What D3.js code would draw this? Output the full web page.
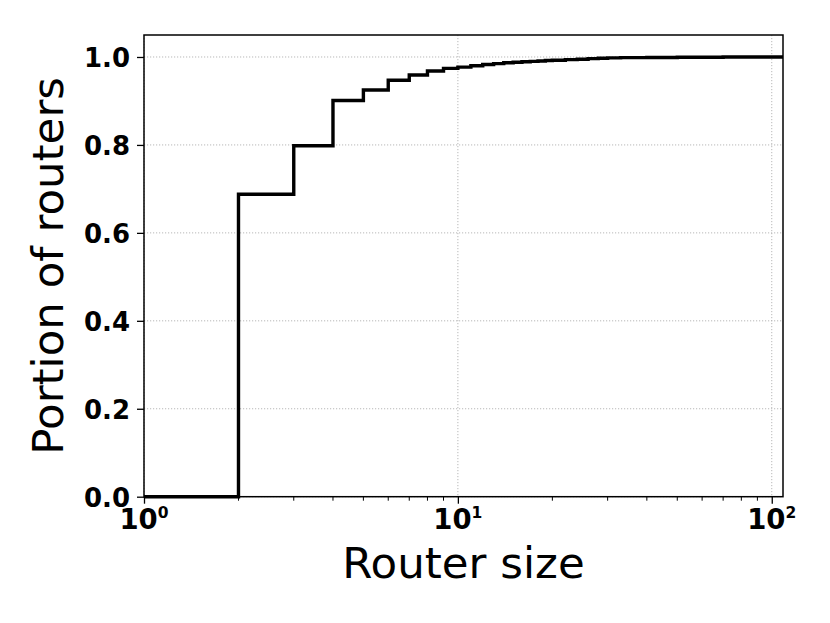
<!DOCTYPE html>
<html>
<head>
<meta charset="utf-8">
<script src="https://cdn.jsdelivr.net/npm/d3@7"></script>
<style>
  html, body { margin: 0; padding: 0; background: #fff; }
  svg { display: block; font-family: "DejaVu Sans", sans-serif; }
</style>
</head>
<body>
<div id="chart"></div>
<script>
// Router size CDF (step curve)
const routerSizes = [1, 2, 3, 4, 5, 6, 7, 8, 9, 10, 11, 12, 13, 14, 15, 16, 17, 18, 19, 20,
  22, 24, 26, 28, 30, 33, 40, 50, 70, 100];
const portion = [0, 0.688, 0.798, 0.901, 0.925, 0.947, 0.959, 0.968, 0.974, 0.977, 0.980,
  0.983, 0.985, 0.987, 0.988, 0.989, 0.990, 0.991, 0.992, 0.9925,
  0.994, 0.995, 0.9963, 0.997, 0.998, 0.9986, 0.999, 0.9995, 0.9998, 1.0];

const yTicks = [0, 0.2, 0.4, 0.6, 0.8, 1.0];
const xTicks = [1, 10, 100];
const xMinorTicks = [2, 3, 4, 5, 6, 7, 8, 9, 20, 30, 40, 50, 60, 70, 80, 90];

const width = 830, height = 623;
const margin = { top: 35, right: 47, bottom: 126.3, left: 144 };
const innerW = width - margin.left - margin.right;
const innerH = height - margin.top - margin.bottom;

const x = d3.scaleLog().domain([1, 108.6]).range([0, innerW]);
const y = d3.scaleLinear().domain([0, 1.05]).range([innerH, 0]);

const svg = d3.select('#chart').append('svg')
  .attr('width', width)
  .attr('height', height);

const g = svg.append('g')
  .attr('transform', `translate(${margin.left},${margin.top})`);

// Grid (dotted)
const grid = g.append('g')
  .attr('stroke', '#b0b0b0')
  .attr('stroke-width', 0.9)
  .attr('stroke-dasharray', '1.2,1.8');

grid.selectAll('.gx')
  .data(xTicks)
  .join('line')
  .attr('x1', d => x(d)).attr('x2', d => x(d))
  .attr('y1', 0).attr('y2', innerH);

grid.selectAll('.gy')
  .data(yTicks)
  .join('line')
  .attr('x1', 0).attr('x2', innerW)
  .attr('y1', d => y(d)).attr('y2', d => y(d));

// Step line
const points = routerSizes.map((s, i) => [s, portion[i]]);
points.push([x.domain()[1], portion[portion.length - 1]]);

const line = d3.line()
  .x(d => x(d[0]))
  .y(d => y(d[1]))
  .curve(d3.curveStepAfter);

g.append('path')
  .datum(points)
  .attr('fill', 'none')
  .attr('stroke', '#000')
  .attr('stroke-width', 3.4)
  .attr('stroke-linejoin', 'miter')
  .attr('d', line);

// Axes
const yAxis = d3.axisLeft(y)
  .tickValues(yTicks)
  .tickSize(7)
  .tickPadding(7)
  .tickFormat(d3.format('.1f'));

const yg = g.append('g').call(yAxis);
yg.select('.domain').remove();
yg.selectAll('.tick line').attr('stroke-width', 1.3);
yg.selectAll('.tick text')
  .attr('font-family', 'DejaVu Sans')
  .attr('font-size', 26)
  .attr('font-weight', 'bold')
  .attr('fill', '#000')
  .attr('dy', '0.36em');

const xAxis = d3.axisBottom(x)
  .tickValues(xTicks)
  .tickSize(7)
  .tickFormat('');

const xg = g.append('g')
  .attr('transform', `translate(0,${innerH})`)
  .call(xAxis);
xg.select('.domain').remove();
xg.selectAll('.tick line').attr('stroke-width', 1.3);

// Minor ticks on the log axis
xg.selectAll('.minor')
  .data(xMinorTicks.filter(d => d <= x.domain()[1]))
  .join('line')
  .attr('class', 'minor')
  .attr('x1', d => x(d)).attr('x2', d => x(d))
  .attr('y1', 0).attr('y2', 4)
  .attr('stroke', '#000')
  .attr('stroke-width', 1);

// Power-of-ten labels
const xl = xg.selectAll('.xlabel')
  .data(xTicks)
  .join('text')
  .attr('class', 'xlabel')
  .attr('x', d => x(d))
  .attr('y', 32.5)
  .attr('text-anchor', 'middle')
  .attr('font-family', 'DejaVu Sans')
  .attr('font-weight', 'bold')
  .attr('fill', '#000');
xl.append('tspan')
  .attr('font-size', 27.5)
  .text('10');
xl.append('tspan')
  .attr('font-size', 15.5)
  .attr('dy', -11)
  .text(d => Math.round(Math.log10(d)));

// Frame
g.append('rect')
  .attr('x', 0).attr('y', 0)
  .attr('width', innerW).attr('height', innerH)
  .attr('fill', 'none')
  .attr('stroke', '#000')
  .attr('stroke-width', 1.5);

// Axis titles
svg.append('text')
  .attr('x', margin.left + innerW / 2)
  .attr('y', 578)
  .attr('text-anchor', 'middle')
  .attr('font-size', 43.5)
  .attr('fill', '#000')
  .text('Router size');

svg.append('text')
  .attr('transform', `translate(63,${margin.top + innerH / 2}) rotate(-90)`)
  .attr('text-anchor', 'middle')
  .attr('font-size', 43.5)
  .attr('fill', '#000')
  .text('Portion of routers');
</script>
</body>
</html>
